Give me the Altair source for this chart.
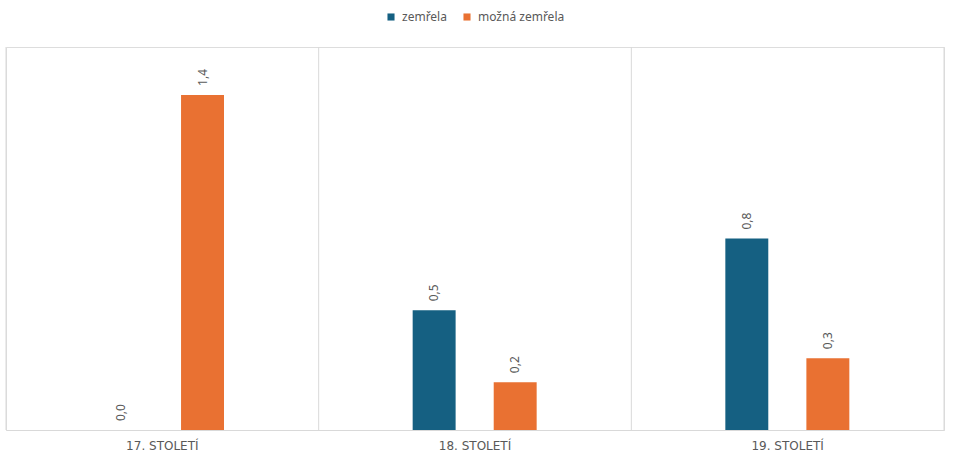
import altair as alt
import pandas as pd

# Categories and series values
centuries = ["17. STOLETÍ", "18. STOLETÍ", "19. STOLETÍ"]
series = ["zemřela", "možná zemřela"]
died = [0.0, 0.5, 0.8]
maybe_died = [1.4, 0.2, 0.3]
colors = ["#156082", "#E97132"]

rows = []
for i, c in enumerate(centuries):
    rows.append({"stoleti": c, "serie": series[0], "hodnota": died[i]})
    rows.append({"stoleti": c, "serie": series[1], "hodnota": maybe_died[i]})
df = pd.DataFrame(rows)

W, H = 938, 383
FONT = "Noto Sans"
GRAY = "#595959"
GRID = "#D9D9D9"

x_axis = alt.Axis(
    title=None, labelAngle=0, ticks=False, grid=False,
    domainColor=GRID, labelColor=GRAY, labelFontSize=12,
    labelFont="DejaVu Sans", labelPadding=10, labelBaseline="top",
)
x_scale = alt.Scale(paddingInner=0, paddingOuter=0)

x_enc = alt.X("stoleti:N", sort=centuries, scale=x_scale, axis=x_axis)
# Two bars per century, placed inside the middle part of each band
x_off = alt.XOffset(
    "serie:N", sort=series,
    scale=alt.Scale(range=[94, 218], paddingInner=0.47, paddingOuter=0),
)
y_enc = alt.Y(
    "hodnota:Q",
    scale=alt.Scale(domain=[0, 1.6], nice=False),
    axis=None,
)

base = alt.Chart(df)

bars = base.mark_bar().encode(
    x=x_enc,
    xOffset=x_off,
    y=y_enc,
    color=alt.Color(
        "serie:N",
        sort=series,
        scale=alt.Scale(domain=series, range=colors),
        legend=alt.Legend(
            title=None, orient="none", direction="horizontal",
            legendX=379, legendY=-36, symbolType="square", symbolSize=50,
            symbolStrokeWidth=0, labelFont=FONT, labelFontSize=12,
            labelColor=GRAY, columnPadding=14, labelOffset=5,
        ),
    ),
)

labels = base.mark_text(
    angle=270, align="left", baseline="middle", dx=9,
    font=FONT, fontSize=12, color=GRAY,
).encode(
    x=x_enc,
    xOffset=x_off,
    y=y_enc,
    text=alt.Text("hodnota:Q", format=".1f"),
)

# Vertical separators at the left edge of each century band
separators = alt.Chart(pd.DataFrame({"stoleti": centuries})).mark_rule(
    color=GRID, strokeWidth=1
).encode(
    x=alt.X("stoleti:N", sort=centuries, scale=x_scale, axis=x_axis,
            bandPosition=0),
    y=alt.value(0),
    y2=alt.value(H),
)
right_edge = alt.Chart(pd.DataFrame({"stoleti": [centuries[-1]]})).mark_rule(
    color=GRID, strokeWidth=1
).encode(
    x=alt.X("stoleti:N", sort=centuries, scale=x_scale, axis=x_axis,
            bandPosition=1),
    y=alt.value(0),
    y2=alt.value(H),
)

chart = (
    alt.layer(bars, labels, separators, right_edge)
    .properties(
        width=W, height=H,
        autosize=alt.AutoSizeParams(type="none"),
        padding={"left": 6, "top": 47, "right": 13, "bottom": 32},
    )
    .configure_view(stroke=None)
    .configure(
        background="white",
        locale={"number": {"decimal": ",", "thousands": " ",
                           "grouping": [3], "currency": ["", " Kč"]}},
    )
)

chart.save("out.html", embed_options={"renderer": "svg", "actions": False})
